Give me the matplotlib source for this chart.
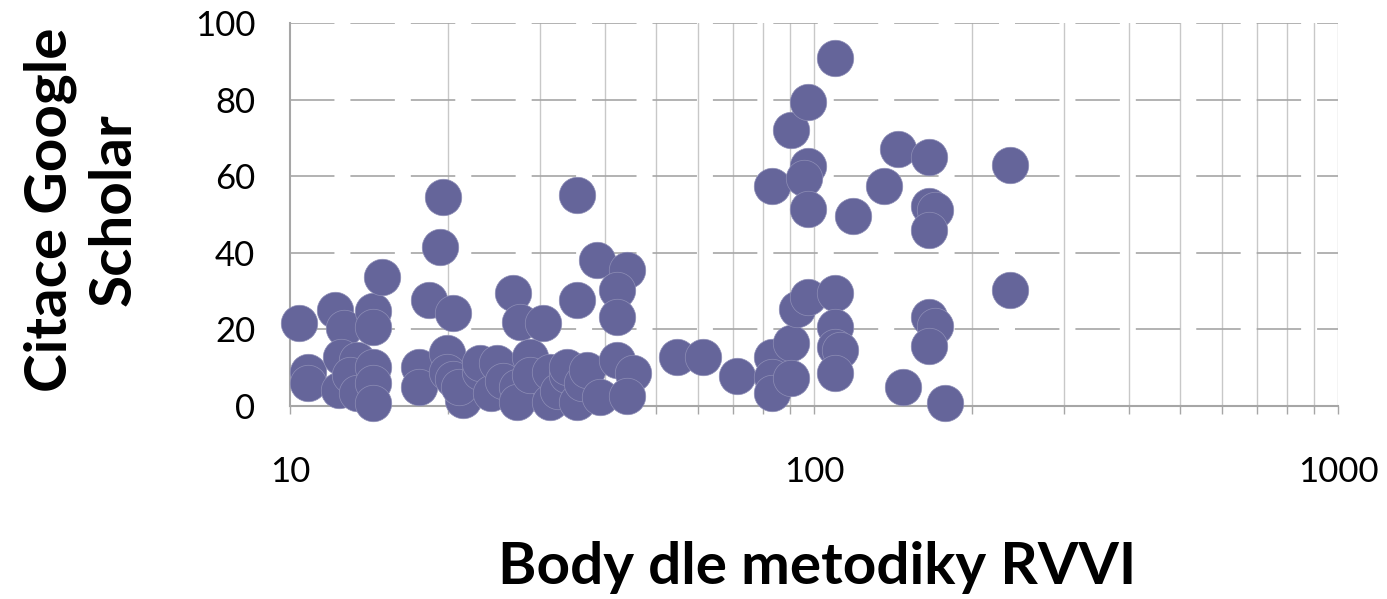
import numpy as np
import matplotlib
matplotlib.use("Agg")
import matplotlib.pyplot as plt
from matplotlib.ticker import LogLocator, NullFormatter, FixedLocator

# body dle metodiky RVVI (x) a citace Google Scholar (y)
body = [
    10.4, 10.8, 10.8, 12.2, 12.7, 12.5, 13.4, 12.4, 13.0, 13.4,
    14.4, 14.4, 14.4, 14.4, 14.4, 15.0,
    17.6, 17.6, 18.4, 19.3, 19.6, 19.9, 19.9, 20.5, 20.5, 21.4, 21.0,
    23.0, 23.0, 24.2, 24.8, 25.5, 26.6, 27.5, 27.1, 27.1, 28.7, 28.7,
    30.4, 31.3, 31.3, 32.5, 33.8, 33.8, 35.3, 35.3, 35.3, 36.0, 36.9,
    38.5, 39.1, 44.0, 42.1, 42.1, 42.1, 45.2, 44.0,
    54.8, 61.4, 71.3,
    83.2, 83.2, 83.2, 83.2, 90.4, 90.4, 90.4, 92.8, 97.4, 97.4,
    97.4, 95.8, 97.4,
    109.6, 109.6, 109.6, 109.6, 112.0, 109.6,
    118.6, 136.2, 144.5, 147.8,
    166.0, 166.0, 170.0, 166.0, 166.0, 170.0, 166.0,
    177.8, 236.6, 236.6,
]
citace = [
    21.7, 8.8, 6.0, 25.1, 20.4, 12.8, 12.0, 4.2, 8.1, 3.4,
    24.8, 20.6, 10.2, 6.0, 0.8, 33.7,
    10.2, 5.0, 27.7, 41.5, 54.6, 13.8, 9.0, 24.3, 7.0, 1.6, 5.0,
    9.0, 11.2, 3.5, 11.2, 6.5, 29.5, 21.9, 5.0, 1.0, 12.8, 8.0,
    21.7, 9.0, 1.0, 4.0, 8.0, 10.2, 55.1, 27.7, 1.0, 6.0, 9.4,
    38.1, 2.3, 35.5, 30.3, 23.2, 12.0, 8.6, 2.5,
    12.8, 12.8, 7.8,
    57.4, 12.8, 7.6, 3.4, 16.4, 7.3, 72.1, 25.3, 28.5, 79.4,
    62.7, 59.5, 51.4,
    90.9, 29.5, 20.6, 15.4, 14.6, 8.6,
    49.6, 57.4, 67.1, 5.0,
    65.0, 52.2, 51.2, 46.0, 23.2, 20.9, 15.6,
    0.8, 62.9, 30.3,
]
y_ticks = [0, 20, 40, 60, 80, 100]
x_ticks = [10, 100, 1000]

plt.rcParams['font.family'] = ['Lato', 'DejaVu Sans']
plt.rcParams['lines.scale_dashes'] = False

fig = plt.figure(figsize=(13.87, 5.99), dpi=100)
ax = fig.add_axes([290/1387, 1 - 406/599, (1338-290)/1387, (406-23)/599])

ax.set_xscale('log')
ax.set_xlim(10, 1000)
ax.set_ylim(0, 100)

# svisle mrizky (vedlejsi znacky)
minor = [m * d for d in (10, 100) for m in range(2, 10)] + [100, 1000]
for v in minor:
    ax.axvline(v, color='#c8c8c8', lw=1.0, zorder=0)
for v in y_ticks[1:]:
    ax.axhline(v, color='#a6a6a6', lw=1.2, ls=(0, (32, 11.5)), zorder=0.5)

ax.scatter(body, citace, s=690, color='#65659a', edgecolors='#8e8eb6',
           linewidths=0.5, zorder=3, clip_on=False)

for s in ['top', 'right']:
    ax.spines[s].set_visible(False)
for s in ['left', 'bottom']:
    ax.spines[s].set_color('#a6a6a6')
    ax.spines[s].set_linewidth(1.5)

ax.xaxis.set_major_locator(FixedLocator(x_ticks))
ax.xaxis.set_minor_locator(LogLocator(base=10, subs=range(2, 10)))
ax.xaxis.set_minor_formatter(NullFormatter())
ax.set_xticklabels([str(v) for v in x_ticks])
ax.set_yticks(y_ticks)
ax.tick_params(axis='x', which='both', direction='out', length=6,
               color='#a6a6a6', width=1.0, labelsize=25, pad=30)
ax.tick_params(axis='y', length=0, labelsize=25, pad=25)

fig.text(817/1387, 1 - 568/599, 'Body dle metodiky RVVI', ha='center',
         va='center', fontsize=42, fontweight='bold')
fig.text(82/1387, 1 - 210/599, 'Citace Google\nScholar', ha='center',
         va='center', rotation=90, fontsize=42, fontweight='bold',
         multialignment='center', linespacing=1.25)

fig.savefig('out.png', dpi=100)
